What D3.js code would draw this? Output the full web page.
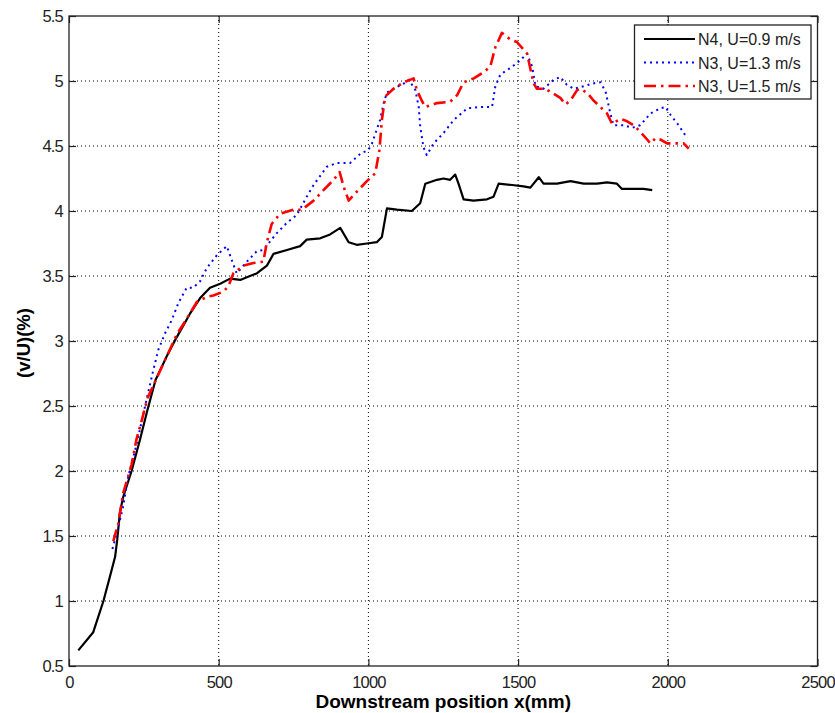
<!DOCTYPE html>
<html>
<head>
<meta charset="utf-8">
<script src="https://cdn.jsdelivr.net/npm/d3@7"></script>
<style>
  html, body { margin: 0; padding: 0; background: #fff; }
  svg { display: block; font-family: "Liberation Sans", Arial, sans-serif; }
</style>
</head>
<body>
<svg id="chart" width="835" height="713"></svg>
<script>
// Downstream position (mm) and turbulence intensity v/U (%) for each run
const n4X = [31, 81, 115, 137, 154, 161, 170, 181, 209, 237, 262, 289, 326, 360, 404, 438, 471, 505, 538, 572, 594, 627, 661, 683, 728, 772, 794, 839, 872, 906, 934, 961, 995, 1028, 1045, 1062, 1095, 1145, 1173, 1190, 1229, 1251, 1273, 1290, 1301, 1318, 1351, 1396, 1418, 1435, 1480, 1518, 1541, 1569, 1585, 1630, 1675, 1719, 1764, 1797, 1830, 1847, 1886, 1919, 1948];
const n4Y = [0.62, 0.76, 1.0, 1.19, 1.34, 1.47, 1.68, 1.80, 2.0, 2.24, 2.47, 2.70, 2.88, 3.03, 3.21, 3.33, 3.41, 3.44, 3.48, 3.47, 3.49, 3.52, 3.58, 3.67, 3.70, 3.73, 3.78, 3.79, 3.82, 3.87, 3.76, 3.74, 3.75, 3.76, 3.80, 4.02, 4.01, 4.00, 4.06, 4.21, 4.24, 4.25, 4.24, 4.28, 4.21, 4.09, 4.08, 4.09, 4.11, 4.21, 4.20, 4.19, 4.18, 4.26, 4.21, 4.21, 4.23, 4.21, 4.21, 4.22, 4.21, 4.17, 4.17, 4.17, 4.16];

const n3aX = [145, 165, 181, 198, 221, 235, 257, 271, 282, 298, 321, 343, 365, 393, 415, 438, 460, 494, 527, 544, 560, 594, 627, 649, 694, 728, 761, 794, 817, 861, 895, 939, 973, 1000, 1012, 1039, 1051, 1062, 1073, 1118, 1135, 1157, 1168, 1173, 1184, 1195, 1218, 1251, 1285, 1330, 1374, 1413, 1424, 1441, 1474, 1502, 1530, 1547, 1558, 1585, 1619, 1641, 1663, 1686, 1719, 1747, 1775, 1792, 1808, 1819, 1853, 1881, 1908, 1942, 1975, 1992, 2009, 2036, 2065];
const n3aY = [1.40, 1.57, 1.73, 1.96, 2.16, 2.30, 2.53, 2.67, 2.78, 2.93, 3.06, 3.16, 3.29, 3.41, 3.41, 3.46, 3.56, 3.66, 3.73, 3.62, 3.52, 3.61, 3.69, 3.70, 3.83, 3.91, 3.97, 4.11, 4.20, 4.34, 4.37, 4.37, 4.44, 4.47, 4.52, 4.70, 4.83, 4.91, 4.93, 4.98, 5.01, 4.93, 4.80, 4.65, 4.49, 4.43, 4.52, 4.60, 4.70, 4.79, 4.80, 4.80, 4.96, 5.05, 5.10, 5.15, 5.21, 5.11, 4.96, 4.94, 5.01, 5.03, 4.97, 4.94, 4.96, 4.98, 4.99, 4.92, 4.75, 4.66, 4.66, 4.64, 4.66, 4.75, 4.79, 4.80, 4.74, 4.66, 4.56];

const n3bX = [148, 165, 181, 209, 226, 243, 262, 298, 310, 332, 360, 393, 427, 460, 482, 516, 532, 549, 583, 616, 649, 661, 677, 705, 750, 778, 817, 850, 884, 904, 917, 934, 962, 995, 1023, 1037, 1045, 1056, 1084, 1118, 1151, 1162, 1178, 1190, 1229, 1273, 1296, 1318, 1352, 1386, 1407, 1424, 1446, 1474, 1496, 1519, 1530, 1552, 1563, 1591, 1641, 1658, 1675, 1697, 1708, 1730, 1752, 1775, 1797, 1814, 1842, 1864, 1886, 1908, 1931, 1942, 1959, 1975, 1998, 2031, 2053, 2070];
const n3bY = [1.46, 1.60, 1.83, 2.05, 2.25, 2.39, 2.56, 2.74, 2.80, 2.91, 3.05, 3.17, 3.30, 3.34, 3.35, 3.38, 3.42, 3.52, 3.58, 3.60, 3.61, 3.76, 3.90, 3.98, 4.01, 4.01, 4.08, 4.16, 4.24, 4.30, 4.19, 4.08, 4.15, 4.23, 4.29, 4.47, 4.70, 4.88, 4.94, 4.99, 5.02, 4.93, 4.85, 4.80, 4.83, 4.84, 4.89, 4.99, 5.02, 5.07, 5.11, 5.26, 5.37, 5.32, 5.30, 5.24, 5.21, 4.98, 4.94, 4.94, 4.87, 4.82, 4.85, 4.93, 4.94, 4.91, 4.85, 4.80, 4.75, 4.67, 4.71, 4.69, 4.66, 4.61, 4.55, 4.52, 4.56, 4.55, 4.52, 4.52, 4.52, 4.48];

const seriesNames = ["N4, U=0.9 m/s", "N3, U=1.3 m/s", "N3, U=1.5 m/s"];
const xTicks = [0, 500, 1000, 1500, 2000, 2500];
const yTicks = [0.5, 1, 1.5, 2, 2.5, 3, 3.5, 4, 4.5, 5, 5.5];
const xLabel = "Downstream position x(mm)";
const yLabel = "(v/U)(%)";

const svg = d3.select("#chart");
const plotL = 69, plotR = 817.5, plotT = 16, plotB = 666;

const x = d3.scaleLinear().domain([0, 2500]).range([plotL, plotR]);
const y = d3.scaleLinear().domain([0.5, 5.5]).range([plotB, plotT]);

// dotted grid
const grid = svg.append("g");
grid.selectAll("line.vx").data(xTicks.slice(1, -1)).join("line")
  .attr("x1", d => x(d)).attr("x2", d => x(d))
  .attr("y1", plotT).attr("y2", plotB)
  .attr("stroke", "#000").attr("stroke-width", 1).attr("stroke-dasharray", "1,3");
grid.selectAll("line.hy").data(yTicks.slice(1, -1)).join("line")
  .attr("x1", plotL).attr("x2", plotR)
  .attr("y1", d => y(d)).attr("y2", d => y(d))
  .attr("stroke", "#000").attr("stroke-width", 1).attr("stroke-dasharray", "1,3");

// axes with inward ticks on all four sides
const tickStyle = g => {
  g.select(".domain").remove();
  g.selectAll(".tick line").attr("stroke", "#222").attr("stroke-width", 1.2);
  g.selectAll("text").attr("fill", "#222").style("font-size", "16.5px")
    .style("letter-spacing", "-0.8px")
    .style("font-family", "'Liberation Sans', Arial, sans-serif");
};
svg.append("g").attr("transform", `translate(0,${plotB})`)
  .call(d3.axisBottom(x).tickValues(xTicks).tickSize(-7).tickPadding(10).tickFormat(d3.format("d")))
  .call(tickStyle);
svg.append("g").attr("transform", `translate(0,${plotT})`)
  .call(d3.axisTop(x).tickValues(xTicks).tickSize(-7).tickFormat(""))
  .call(tickStyle);
svg.append("g").attr("transform", `translate(${plotL},0)`)
  .call(d3.axisLeft(y).tickValues(yTicks).tickSize(-7).tickPadding(6).tickFormat(d => d))
  .call(tickStyle);
svg.append("g").attr("transform", `translate(${plotR},0)`)
  .call(d3.axisRight(y).tickValues(yTicks).tickSize(-7).tickFormat(""))
  .call(tickStyle);

svg.append("rect").attr("x", plotL).attr("y", plotT)
  .attr("width", plotR - plotL).attr("height", plotB - plotT)
  .attr("fill", "none").attr("stroke", "#222").attr("stroke-width", 1.3);

// data lines
const line = d3.line().x(d => x(d[0])).y(d => y(d[1]));
const styles = [
  { color: "#000", width: 2.2, dash: null },
  { color: "#0000ff", width: 2, dash: "2,4" },
  { color: "#ff0000", width: 2.6, dash: "12,5,2.5,5" }
];
const series = [
  d3.zip(n4X, n4Y),
  d3.zip(n3aX, n3aY),
  d3.zip(n3bX, n3bY)
];
series.forEach((s, i) => {
  svg.append("path").datum(s)
    .attr("d", line)
    .attr("fill", "none")
    .attr("stroke", styles[i].color)
    .attr("stroke-width", styles[i].width)
    .attr("stroke-linejoin", "round")
    .attr("stroke-dasharray", styles[i].dash);
});

// legend
const lg = svg.append("g");
lg.append("rect").attr("x", 634.5).attr("y", 25).attr("width", 176.5).attr("height", 74)
  .attr("fill", "#fff").attr("stroke", "#222").attr("stroke-width", 1.3);
seriesNames.forEach((name, i) => {
  const ry = 39 + i * 23.5;
  lg.append("line").attr("x1", 644).attr("x2", 695).attr("y1", ry).attr("y2", ry)
    .attr("stroke", styles[i].color).attr("stroke-width", styles[i].width)
    .attr("stroke-dasharray", styles[i].dash);
  lg.append("text").attr("x", 698).attr("y", ry + 6)
    .attr("fill", "#222").style("font-size", "16px").text(name);
});

// axis titles
svg.append("text").attr("x", x(1250)).attr("y", 708)
  .attr("text-anchor", "middle").style("font-size", "19px").style("font-weight", "bold")
  .text(xLabel);
svg.append("text").attr("transform", `translate(30,343) rotate(-90)`)
  .attr("text-anchor", "middle").style("font-size", "18.5px").style("font-weight", "bold")
  .text(yLabel);
</script>
</body>
</html>
